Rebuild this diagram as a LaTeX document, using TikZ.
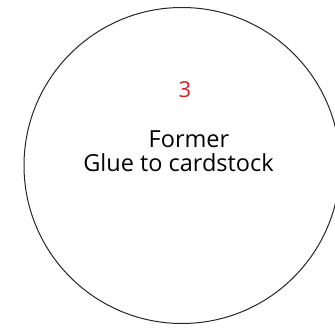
\documentclass[tikz,border=0pt]{standalone}
\usepackage{fontspec}
\setmainfont{Open Sans}
\definecolor{numred}{RGB}{220,30,38}
\tikzset{
  lbl/.style={font=\fontsize{23.5}{28}\selectfont, text=black, inner sep=0pt, anchor=base},
  num/.style={font=\fontsize{22}{28}\selectfont, text=numred, inner sep=0pt, anchor=base}
}
\begin{document}
\begin{tikzpicture}[x=1pt,y=1pt]
\useasboundingbox (0,0) rectangle (335,329);
\clip (0,0) rectangle (335,329);
\node[circle, draw=black!85, line width=1pt, minimum size=316pt, inner sep=0pt] (disc) at (182,163.5) {};
\node[num] (n) at (185,231) {3};
\node[lbl] (a) at (189,181) {Former};
\node[lbl] (b) at (178.5,157) {Glue to cardstock};
\end{tikzpicture}
\end{document}
